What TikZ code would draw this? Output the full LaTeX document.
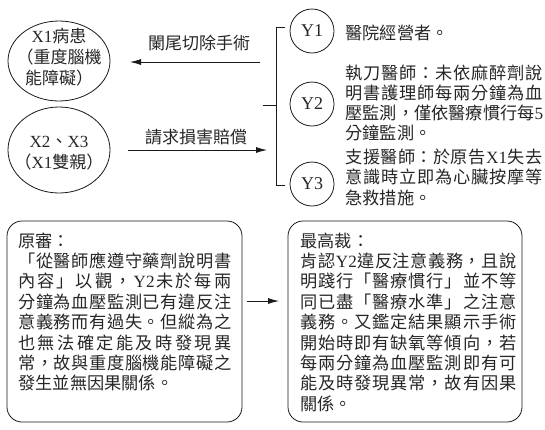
\documentclass[tikz,border=0pt]{standalone}
\usepackage{fontspec}
\setmainfont{Noto Sans CJK TC}
\newfontfamily\lat{Liberation Serif}
\usetikzlibrary{arrows.meta,shapes.geometric}
\newdimen\jw
\def\sprX#1{\sprB#1\relax}
\def\sprB#1{#1\sprC}
\def\sprC#1{\ifx\relax#1\else\hfill#1\expandafter\sprC\fi}
\newcommand\jline[1]{\hbox to \jw{\sprX{#1}}}
\newcommand\jblock[3]{\vtop{\jw=#1\baselineskip=#2 #3}}
\begin{document}
\begin{tikzpicture}[x=1pt,y=-1pt,line width=0.8pt,draw=black!90,
  every node/.style={inner sep=0pt,text=black!85},
  arr/.style={-{Latex[length=11pt,width=6pt]}},
  circ/.style={draw,circle,minimum size=44pt,font=\lat\fontsize{18}{20}\selectfont},
  ellbox/.style={draw,ellipse,minimum width=102pt,minimum height=80pt},
  elltxt/.style={align=center,font=\fontsize{17}{21}\selectfont},
  lab/.style={font=\fontsize{17}{20}\selectfont},
  box/.style={draw,rounded corners=15pt},
  txt/.style={anchor=base west,font=\fontsize{17.2}{20}\selectfont}]
\useasboundingbox (0,0) rectangle (545,429);
% left ellipses
\node[ellbox] (x1) at (59,61) {};
\node[elltxt] (x1t) at (59,57) {{\lat X1}病患\\（重度腦機\\能障礙）};
\node[ellbox,minimum height=86pt] (x2) at (59,150) {};
\node[elltxt] (x2t) at (59,153) {{\lat X2}、{\lat X3}\\（{\lat X1}雙親）};
% arrows
\coordinate (a1s) at (260,62);
\coordinate (a1e) at (130,62);
\draw[arr] (a1s) -- (a1e);
\node[lab] (lab1) at (199,43) {闌尾切除手術};
\coordinate (a2s) at (128,150);
\coordinate (a2e) at (267,150);
\draw[arr] (a2s) -- (a2e);
\node[lab] (lab2) at (196,137) {請求損害賠償};
% Y circles
\node[circ] (y1) at (312,31) {Y1};
\node[circ] (y2) at (312,104) {Y2};
\node[circ] (y3) at (312,184) {Y3};
% bracket
\coordinate (b1) at (285,27);
\coordinate (bt) at (276,27);
\coordinate (bb) at (276,185);
\coordinate (b3) at (285,185);
\coordinate (tk) at (263,105);
\coordinate (tm) at (276,105);
\draw (b1) -- (bt) -- (bb) -- (b3);
\draw (tk) -- (tm);
% right texts
\node[txt] (t1) at (345,39) {醫院經營者。};
\node[txt] (t2) at (345,79) {\jblock{197pt}{20pt}{%
  \jline{執刀醫師：未依麻醉劑說}%
  \jline{明書護理師每兩分鐘為血}%
  \jline{壓監測，僅依醫療慣行每{{\lat 5}}}%
  \hbox{分鐘監測。}}};
\node[txt] (t3) at (345,163) {\jblock{197pt}{20.5pt}{%
  \jline{支援醫師：於原告{{\lat X1}}失去}%
  \jline{意識時立即為心臟按摩等}%
  \hbox{急救措施。}}};
% bottom boxes
\draw[box] (7,221) rectangle (242,422);
\node[txt] (bl) at (18,247) {\jblock{213pt}{20.4pt}{%
  \hbox{原審：}%
  \jline{「從醫師應遵守藥劑說明書}%
  \jline{內容」以觀，{{\lat Y2}}未於每兩}%
  \jline{分鐘為血壓監測已有違反注}%
  \jline{意義務而有過失。但縱為之}%
  \jline{也無法確定能及時發現異}%
  \jline{常，故與重度腦機能障礙之}%
  \hbox{發生並無因果關係。}}};
\coordinate (a3s) at (247,301);
\coordinate (a3e) at (279,301);
\draw[arr] (a3s) -- (a3e);
\draw[box] (288,221) rectangle (522,422);
\node[txt] (br) at (300,247) {\jblock{216pt}{20.4pt}{%
  \hbox{最高裁：}%
  \jline{肯認{{\lat Y2}}違反注意義務，且說}%
  \jline{明踐行「醫療慣行」並不等}%
  \jline{同已盡「醫療水準」之注意}%
  \jline{義務。又鑑定結果顯示手術}%
  \jline{開始時即有缺氧等傾向，若}%
  \jline{每兩分鐘為血壓監測即有可}%
  \jline{能及時發現異常，故有因果}%
  \hbox{關係。}}};
\end{tikzpicture}
\end{document}
